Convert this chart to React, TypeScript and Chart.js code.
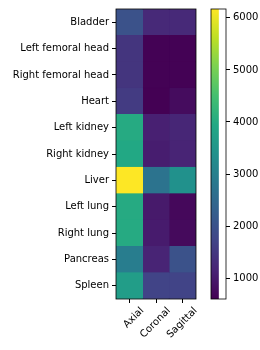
import React, { useEffect, useRef } from 'react';
import { Chart, registerables } from 'chart.js';
Chart.register(...registerables);

const organs = ['Bladder', 'Left femoral head', 'Right femoral head', 'Heart', 'Left kidney', 'Right kidney', 'Liver', 'Left lung', 'Right lung', 'Pancreas', 'Spleen'];
const views = ['Axial', 'Coronal', 'Sagittal'];
const axialValues = [2000, 1450, 1450, 1550, 4000, 3950, 6170, 4000, 4000, 2940, 3680];
const coronalValues = [1250, 610, 610, 600, 1100, 1050, 2720, 990, 1020, 1160, 1710];
const sagittalValues = [1250, 610, 610, 770, 1200, 1150, 3380, 710, 740, 2000, 1710];
const colorbarTicks = [1000, 2000, 3000, 4000, 5000, 6000];
const vmin = 600;
const vmax = 6170;

const viridisStops = ['#440154', '#482475', '#414487', '#355f8d', '#2a788e', '#21918c', '#22a884', '#44bf70', '#7ad151', '#bddf26', '#fde725'];

function hexToRgb(h: string) {
  return [parseInt(h.slice(1, 3), 16), parseInt(h.slice(3, 5), 16), parseInt(h.slice(5, 7), 16)];
}
function viridis(v: number) {
  let t = (v - vmin) / (vmax - vmin);
  t = Math.max(0, Math.min(1, t));
  const p = t * (viridisStops.length - 1);
  const i = Math.min(Math.floor(p), viridisStops.length - 2);
  const f = p - i;
  const a = hexToRgb(viridisStops[i]);
  const b = hexToRgb(viridisStops[i + 1]);
  const c = a.map((x, k) => Math.round(x + (b[k] - x) * f));
  return `rgb(${c[0]},${c[1]},${c[2]})`;
}

const FONT = { family: 'DejaVu Sans', size: 10 };

const framePlugin = {
  id: 'frame',
  afterDatasetsDraw(chart: any) {
    const { ctx, chartArea: a } = chart;
    ctx.save();
    ctx.strokeStyle = '#000';
    ctx.lineWidth = 0.8;
    ctx.strokeRect(a.left, a.top, a.right - a.left, a.bottom - a.top);
    ctx.restore();
  },
};

export default function App() {
  const heatRef = useRef<HTMLCanvasElement>(null);
  const barRef = useRef<HTMLCanvasElement>(null);

  useEffect(() => {
    const series = [axialValues, coronalValues, sagittalValues];
    const heat = new Chart(heatRef.current!, {
      type: 'bar',
      data: {
        labels: organs,
        datasets: series.map((vals, j) => ({
          label: views[j],
          data: vals.map(() => [j, j + 1]),
          backgroundColor: vals.map(viridis),
          borderColor: vals.map(viridis),
          borderWidth: 0.5,
          borderSkipped: false,
          grouped: false,
          barPercentage: 1,
          categoryPercentage: 1,
        })) as any,
      },
      options: {
        indexAxis: 'y',
        responsive: false,
        animation: false,
        devicePixelRatio: 1,
        layout: { padding: { top: 8, left: 0, right: 9, bottom: 0 } },
        plugins: { legend: { display: false }, tooltip: { enabled: false } },
        scales: {
          y: {
            type: 'category',
            offset: true,
            grid: { offset: false, drawOnChartArea: false, drawTicks: true, tickLength: 4, tickColor: '#000' },
            border: { display: false },
            ticks: { color: '#000', font: FONT, padding: 3, autoSkip: false },
            afterFit: (s: any) => { s.width = 116; },
          },
          x: {
            type: 'linear',
            min: 0,
            max: 3,
            grid: { drawOnChartArea: false, drawTicks: true, tickLength: 4, tickColor: '#000' },
            border: { display: false },
            afterBuildTicks: (s: any) => { s.ticks = [0.5, 1.5, 2.5].map((v) => ({ value: v })); },
            ticks: {
              color: '#000',
              font: FONT,
              autoSkip: false,
              minRotation: 45,
              maxRotation: 45,
              labelOffset: 13,
              padding: 2,
              callback: (_v: any, i: number) => views[i],
            },
            afterFit: (s: any) => { s.height = 51; },
          },
        },
      } as any,
      plugins: [framePlugin],
    });

    const cb = new Chart(barRef.current!, {
      type: 'bar',
      data: {
        labels: ['scale'],
        datasets: [{
          data: [[vmin, vmax]],
          backgroundColor: (ctx: any) => {
            const chart = ctx.chart;
            const ys = chart.scales.y;
            if (!chart.chartArea || !ys) return viridisStops[0];
            const g = chart.ctx.createLinearGradient(0, ys.getPixelForValue(vmin), 0, ys.getPixelForValue(vmax));
            viridisStops.forEach((c, i) => g.addColorStop(i / (viridisStops.length - 1), c));
            return g;
          },
          borderWidth: 0,
          barPercentage: 1,
          categoryPercentage: 1,
        }] as any,
      },
      options: {
        responsive: false,
        animation: false,
        devicePixelRatio: 1,
        layout: { padding: { top: 7, left: 6, right: 0, bottom: 51 } },
        plugins: { legend: { display: false }, tooltip: { enabled: false } },
        scales: {
          x: { display: false, offset: false },
          y: {
            type: 'linear',
            position: 'right',
            min: vmin,
            max: vmax,
            grid: { drawOnChartArea: false, drawTicks: true, tickLength: 4, tickColor: '#000' },
            border: { display: false },
            afterBuildTicks: (s: any) => { s.ticks = colorbarTicks.map((v) => ({ value: v })); },
            ticks: { color: '#000', font: FONT, padding: 3, callback: (v: any) => String(v) },
            afterFit: (s: any) => { s.width = 34; },
          },
        },
      } as any,
      plugins: [framePlugin],
    });

    return () => { heat.destroy(); cb.destroy(); };
  }, []);

  return (
    <div style={{ position: 'absolute', left: 0, top: 0, width: 260, height: 350, background: '#fff' }}>
      <canvas ref={heatRef} width={205} height={350} style={{ position: 'absolute', left: 0, top: 0 }} />
      <canvas ref={barRef} width={55} height={350} style={{ position: 'absolute', left: 205, top: 0 }} />
    </div>
  );
}
